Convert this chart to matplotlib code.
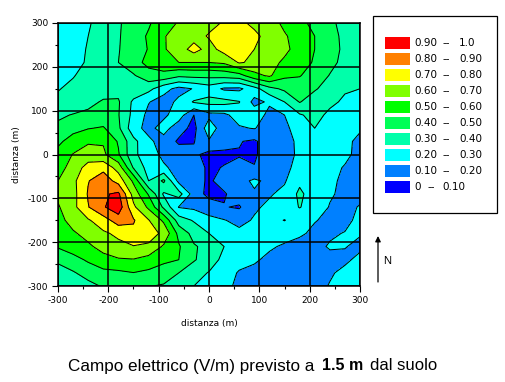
import matplotlib
matplotlib.use("Agg")
import matplotlib.pyplot as plt
from matplotlib.patches import Rectangle
import numpy as np

plt.rcParams['font.family'] = ['DejaVu Sans']

# griglia di calcolo, passo 30 m
x_m = np.arange(-300, 301, 30)
y_m = np.arange(300, -301, -30)

r300 = [.22, .25, .29, .34, .39, .44, .49, .55, .61, .64, .67, .71, .72, .68, .64, .58, .53, .47, .42, .37, .33]
r270 = [.21, .25, .30, .35, .39, .46, .51, .595, .63, .66, .71, .76, .77, .72, .67, .61, .56, .50, .43, .38, .34]
r240 = [.20, .25, .31, .35, .395, .45, .505, .59, .65, .74, .66, .74, .77, .70, .66, .62, .565, .50, .44, .38, .34]
r210 = [.20, .26, .315, .355, .40, .46, .53, .56, .60, .60, .60, .615, .71, .68, .63, .585, .54, .49, .43, .37, .33]
r180 = [.25, .295, .33, .36, .385, .39, .46, .47, .42, .43, .43, .44, .46, .57, .615, .52, .505, .46, .395, .35, .31]
r150 = [.295, .32, .345, .36, .37, .37, .33, .235, .17, .205, .25, .185, .18, .26, .37, .42, .45, .41, .36, .31, .30]
r120 = [.32, .345, .375, .41, .41, .28, .205, .16, .22, .31, .33, .33, .305, .17, .215, .30, .405, .35, .32, .285, .27]
r90 = [.385, .405, .42, .43, .405, .27, .175, .18, .25, .10, .175, .18, .24, .26, .17, .20, .29, .33, .28, .25, .24]
r60 = [.42, .47, .495, .51, .42, .235, .17, .24, .14, .07, .26, .14, .19, .205, .16, .175, .25, .30, .27, .235, .21]
r30 = [.48, .54, .59, .59, .49, .33, .22, .16, .085, .095, .19, .14, .105, .085, .155, .175, .215, .24, .24, .22, .18]
r0 = [.53, .605, .635, .62, .51, .32, .25, .175, .15, .12, .07, .08, .095, .085, .155, .18, .21, .235, .24, .215, .18]
rm30 = [.565, .635, .745, .77, .66, .39, .26, .215, .165, .14, .085, .105, .12, .105, .17, .185, .22, .23, .22, .195, .18]
rm60 = [.60, .675, .795, .86, .76, .58, .30, .42, .17, .14, .085, .14, .17, .215, .18, .19, .28, .24, .215, .185, .18]
rm90 = [.62, .665, .81, .885, .92, .66, .49, .285, .34, .155, .07, .09, .15, .19, .19, .225, .32, .25, .21, .18, .18]
rm120 = [.59, .67, .795, .89, .96, .72, .58, .38, .195, .18, .155, .105, .09, .185, .22, .24, .305, .25, .195, .18, .205]
rm150 = [.56, .645, .69, .755, .85, .81, .705, .58, .35, .29, .225, .205, .17, .21, .22, .198, .23, .205, .18, .17, .23]
rm180 = [.545, .585, .64, .685, .72, .775, .74, .68, .47, .365, .30, .25, .225, .245, .255, .245, .215, .18, .185, .205, .205]
rm210 = [.51, .55, .58, .64, .675, .695, .685, .585, .51, .41, .37, .30, .25, .235, .215, .185, .165, .17, .21, .203, .185]
rm240 = [.42, .465, .515, .56, .59, .595, .56, .52, .50, .41, .345, .275, .24, .215, .175, .16, .15, .155, .17, .185, .22]
rm270 = [.355, .39, .44, .475, .48, .498, .48, .455, .40, .335, .295, .25, .19, .17, .15, .14, .135, .14, .19, .22, .25]
rm300 = [.31, .34, .37, .41, .44, .45, .405, .39, .36, .30, .265, .225, .18, .155, .14, .13, .125, .17, .205, .24, .27]

campo = np.array([r300, r270, r240, r210, r180, r150, r120, r90, r60, r30, r0,
                  rm30, rm60, rm90, rm120, rm150, rm180, rm210, rm240, rm270, rm300])

livelli = [0, .1, .2, .3, .4, .5, .6, .7, .8, .9, 1.0]
colori = ['#0000ff', '#0080ff', '#00ffff', '#00ffaa', '#00ff55',
          '#00ff00', '#80ff00', '#ffff00', '#ff8000', '#ff0000']
leg_da = ['0', '0.10', '0.20', '0.30', '0.40', '0.50', '0.60', '0.70', '0.80', '0.90']
leg_a = ['0.10', '0.20', '0.30', '0.40', '0.50', '0.60', '0.70', '0.80', '0.90', '1.0']
tick_val = [-300, -200, -100, 0, 100, 200, 300]
tick_lab = ['-300', '-200', '-100', '0', '100', '200', '300']
minor_val = [-250, -150, -50, 50, 150, 250]

W, H = 506, 382
fig = plt.figure(figsize=(W / 100, H / 100), dpi=100)
ax = fig.add_axes([58 / W, 1 - 286 / H, 302 / W, 263 / H])

ax.contourf(x_m, y_m, campo, levels=livelli, colors=colori, antialiased=False)
ax.contour(x_m, y_m, campo, levels=livelli[1:-1], colors='k', linewidths=0.72, linestyles='solid')

ax.set_xlim(-300, 300)
ax.set_ylim(-300, 300)
ax.set_xticks(tick_val, tick_lab)
ax.set_yticks(tick_val, tick_lab)
ax.set_xticks(minor_val, minor=True)
ax.set_yticks(minor_val, minor=True)
ax.grid(True, which='major', color='k', linewidth=1.1)
ax.set_axisbelow(False)
ax.tick_params(which='major', length=4, width=0.8, labelsize=6.5, pad=3)
ax.tick_params(which='minor', length=2.5, width=0.8)
for s in ax.spines.values():
    s.set_linewidth(1.1)
ax.set_xlabel('distanza (m)', fontsize=6.5, labelpad=10)
ax.set_ylabel('distanza (m)', fontsize=6.5, labelpad=5)

# fondo in pixel per legenda, freccia e titolo
ov = fig.add_axes([0, 0, 1, 1], facecolor='none')
ov.set_xlim(0, W)
ov.set_ylim(H, 0)
ov.axis('off')

ov.add_patch(Rectangle((373, 16), 124, 197, fc='white', ec='k', lw=0.9))
for i in range(10):
    y0 = 37 + 16 * (9 - i)
    ov.add_patch(Rectangle((385, y0), 25, 12, fc=colori[i], ec='none'))
    yc = y0 + 6.5
    ov.text(414, yc, leg_da[i], fontsize=7.5, va='center')
    if i == 0:
        ov.text(428, yc, '--', fontsize=7.5, va='center')
        ov.text(442, yc, leg_a[i], fontsize=7.5, va='center')
    else:
        ov.text(443, yc, '--', fontsize=7.5, va='center')
        ov.text(459, yc, leg_a[i], fontsize=7.5, va='center')

ov.annotate('', xy=(378, 236), xytext=(378, 282),
            arrowprops=dict(arrowstyle='-|>', color='k', lw=0.9, mutation_scale=8, shrinkA=0, shrinkB=0))
ov.text(383, 261, 'N', fontsize=8, va='center', family='Liberation Sans')

ov.text(68, 366, 'Campo elettrico (V/m) previsto a', fontsize=12.3, va='center', family='Liberation Sans')
ov.text(322, 366, '1.5 m', fontsize=11.5, va='center', fontweight='bold', family='Liberation Sans')
ov.text(370, 366, 'dal suolo', fontsize=12, va='center', family='Liberation Sans')

fig.savefig('out.png', dpi=100)
